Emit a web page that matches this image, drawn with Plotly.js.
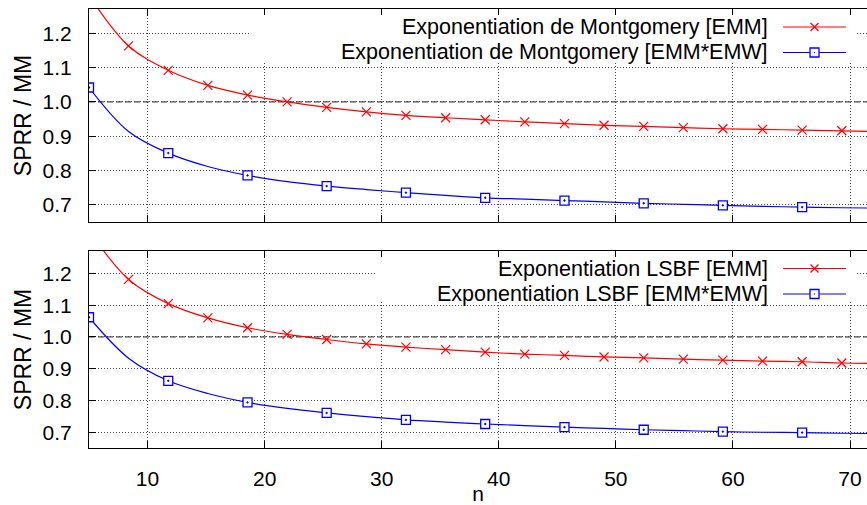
<!DOCTYPE html>
<html>
<head>
<meta charset="utf-8">
<script src="https://cdn.plot.ly/plotly-3.0.1.min.js"></script>
<style>
html,body{margin:0;padding:0;background:#fff;overflow:hidden;}
#chart{width:867px;height:505px;}
</style>
</head>
<body>
<div id="chart"></div>
<script>
// ---- data ----
const n = [5, 8.38, 11.77, 15.15, 18.54, 21.92, 25.30, 28.69, 32.07, 35.46, 38.84,
           42.22, 45.61, 48.99, 52.38, 55.76, 59.14, 62.53, 65.91, 69.30, 72];

// top panel : Exponentiation de Montgomery
const montEMM    = [1.310, 1.163, 1.092, 1.048, 1.020, 1.000, 0.984, 0.971, 0.961, 0.954, 0.948,
                    0.942, 0.937, 0.932, 0.929, 0.925, 0.922, 0.920, 0.918, 0.916, 0.914];
const montEMMEMW = [1.042, 0.914, 0.851, 0.812, 0.786, 0.768, 0.755, 0.745, 0.736, 0.728, 0.721,
                    0.717, 0.713, 0.709, 0.705, 0.702, 0.699, 0.696, 0.694, 0.692, 0.691];

// bottom panel : Exponentiation LSBF
const lsbfEMM    = [1.335, 1.181, 1.105, 1.060, 1.029, 1.008, 0.992, 0.978, 0.968, 0.960, 0.952,
                    0.946, 0.942, 0.937, 0.934, 0.930, 0.927, 0.924, 0.922, 0.918, 0.917];
const lsbfEMMEMW = [1.062, 0.933, 0.862, 0.822, 0.794, 0.775, 0.761, 0.749, 0.739, 0.732, 0.726,
                    0.721, 0.716, 0.712, 0.708, 0.705, 0.702, 0.700, 0.699, 0.697, 0.696];

const yTicks = [0.7, 0.8, 0.9, 1.0, 1.1, 1.2];
const xTicks = [10, 20, 30, 40, 50, 60, 70];

const labelsTop = ['Exponentiation de Montgomery [EMM]', 'Exponentiation de Montgomery [EMM*EMW]'];
const labelsBot = ['Exponentiation LSBF [EMM]', 'Exponentiation LSBF [EMM*EMW]'];
const yTitle = 'SPRR / MM';
const xTitle = 'n';

// ---- styling ----
const RED = '#ff0000', BLUE = '#0000ff';
const FONT = 'Liberation Sans, Arial, Helvetica, sans-serif';
const W = 867, H = 505;

// markers: every sample for EMM (except final end sample), every 2nd for EMM*EMW
function pick(arr, step) {
  const out = [];
  for (let i = 0; i < arr.length - 1; i += step) out.push(arr[i]);
  return out;
}

function series(x, y, color, xa, ya, step, symbol) {
  const line = {x: x, y: y, xaxis: xa, yaxis: ya, type: 'scatter', mode: 'lines',
    line: {color: color, width: 1.2, shape: 'spline', smoothing: 1}, hoverinfo: 'skip', showlegend: false};
  const mk = {x: pick(x, step), y: pick(y, step), xaxis: xa, yaxis: ya, type: 'scatter', mode: 'markers',
    cliponaxis: symbol !== 'x-thin-open',
    marker: symbol === 'x-thin-open'
      ? {symbol: 'x-thin-open', size: 9, color: color, line: {color: color, width: 1.2}}
      : {symbol: 'square-dot', size: 9, color: 'white', line: {color: color, width: 1.3}},
    hoverinfo: 'skip', showlegend: false};
  return [line, mk];
}

const traces = [].concat(
  series(n, montEMM, RED, 'x', 'y', 1, 'x-thin-open'),
  series(n, montEMMEMW, BLUE, 'x', 'y', 2, 'square-dot'),
  series(n, lsbfEMM, RED, 'x2', 'y2', 1, 'x-thin-open'),
  series(n, lsbfEMMEMW, BLUE, 'x2', 'y2', 2, 'square-dot')
);

// geometry (px)
const plotL = 89;
const topT = 9, topB = 222, botT = 251, botB = 448;
const py = v => 1 - v / H;
const px = v => v / W;

const xRange = [5, 71.45];
const yRange = [0.6505, 1.2705];

function xax(showLabels, anchor, title) {
  const a = {domain: [px(plotL), 1], range: xRange, anchor: anchor,
    tickvals: xTicks, ticks: 'inside', ticklen: 7, tickcolor: '#000', tickwidth: 1,
    showline: true, linecolor: '#000', linewidth: 1, mirror: 'ticks',
    showgrid: true, gridcolor: '#444', gridwidth: 1, griddash: '1px,2px',
    zeroline: false, showticklabels: showLabels, ticklabelstandoff: 12,
    tickfont: {family: FONT, size: 21, color: '#000'}, fixedrange: true};
  if (title) a.title = {text: title, font: {family: FONT, size: 21, color: '#000'}, standoff: 2};
  return a;
}
function yax(dom, anchor) {
  return {domain: dom, range: yRange, anchor: anchor,
    tickvals: yTicks, tickformat: '.1f', ticks: 'inside', ticklen: 7, tickcolor: '#000', tickwidth: 1,
    showline: true, linecolor: '#000', linewidth: 1, mirror: false,
    showgrid: true, gridcolor: '#444', gridwidth: 1, griddash: '1px,2px',
    zeroline: false, ticklabelstandoff: 12,
    tickfont: {family: FONT, size: 21, color: '#000'},
    title: {text: yTitle, font: {family: FONT, size: 23, color: '#000'}, standoff: 4},
    fixedrange: true};
}

const shapes = [];
const annotations = [];

// dashed reference line at 1.0
[['x', 'y'], ['x2', 'y2']].forEach(([xa, ya]) => {
  shapes.push({type: 'line', layer: 'below', xref: xa + ' domain', yref: ya, x0: 0, x1: 1, y0: 1.0, y1: 1.0,
    line: {color: '#222', width: 1, dash: '6px,3px'}});
});

function keyBlock(labels, boxLeft, rowYs, boxTop, boxBot) {
  // opaque key box
  shapes.push({type: 'rect', layer: 'above', xref: 'paper', yref: 'paper',
    x0: px(boxLeft), x1: px(857), y0: py(boxBot), y1: py(boxTop), fillcolor: '#fff', line: {width: 0}});
  const colors = [RED, BLUE];
  labels.forEach((t, i) => {
    annotations.push({xref: 'paper', yref: 'paper', x: px(769), y: py(rowYs[i]), xanchor: 'right', yanchor: 'middle',
      text: t, showarrow: false, borderpad: 0, font: {family: FONT, size: 21.5, color: '#000'}});
    shapes.push({type: 'line', layer: 'above', xref: 'paper', yref: 'paper', x0: px(783), x1: px(846),
      y0: py(rowYs[i]), y1: py(rowYs[i]), line: {color: colors[i], width: 1.2}});
    const xa = px(814.5), ya = py(rowYs[i]);
    if (i === 0) {
      shapes.push({type: 'line', layer: 'above', xref: 'paper', yref: 'paper', xsizemode: 'pixel', ysizemode: 'pixel',
        xanchor: xa, yanchor: ya, x0: -4, x1: 4, y0: -4, y1: 4, line: {color: RED, width: 1.3}});
      shapes.push({type: 'line', layer: 'above', xref: 'paper', yref: 'paper', xsizemode: 'pixel', ysizemode: 'pixel',
        xanchor: xa, yanchor: ya, x0: -4, x1: 4, y0: 4, y1: -4, line: {color: RED, width: 1.3}});
    } else {
      shapes.push({type: 'rect', layer: 'above', xref: 'paper', yref: 'paper', xsizemode: 'pixel', ysizemode: 'pixel',
        xanchor: xa, yanchor: ya, x0: -4.5, x1: 4.5, y0: -4.5, y1: 4.5, fillcolor: '#fff', line: {color: BLUE, width: 1.3}});
      shapes.push({type: 'rect', layer: 'above', xref: 'paper', yref: 'paper', xsizemode: 'pixel', ysizemode: 'pixel',
        xanchor: xa, yanchor: ya, x0: -0.6, x1: 0.6, y0: -0.6, y1: 0.6, fillcolor: BLUE, line: {width: 0}});
    }
  });
}
keyBlock(labelsTop, 250, [27, 52.5], 15, 63);
keyBlock(labelsBot, 375, [268.5, 294], 257, 302);

const layout = {
  width: W, height: H,
  margin: {l: 0, r: 0, t: 0, b: 0, pad: 0},
  paper_bgcolor: '#fff', plot_bgcolor: '#fff',
  showlegend: false,
  font: {family: FONT, size: 21, color: '#000'},
  xaxis: xax(false, 'y'),
  yaxis: yax([py(topB), py(topT)], 'x'),
  xaxis2: xax(true, 'y2', xTitle),
  yaxis2: yax([py(botB), py(botT)], 'x2'),
  shapes: shapes,
  annotations: annotations
};

Plotly.newPlot('chart', traces, layout, {displayModeBar: false, staticPlot: true});
</script>
</body>
</html>
